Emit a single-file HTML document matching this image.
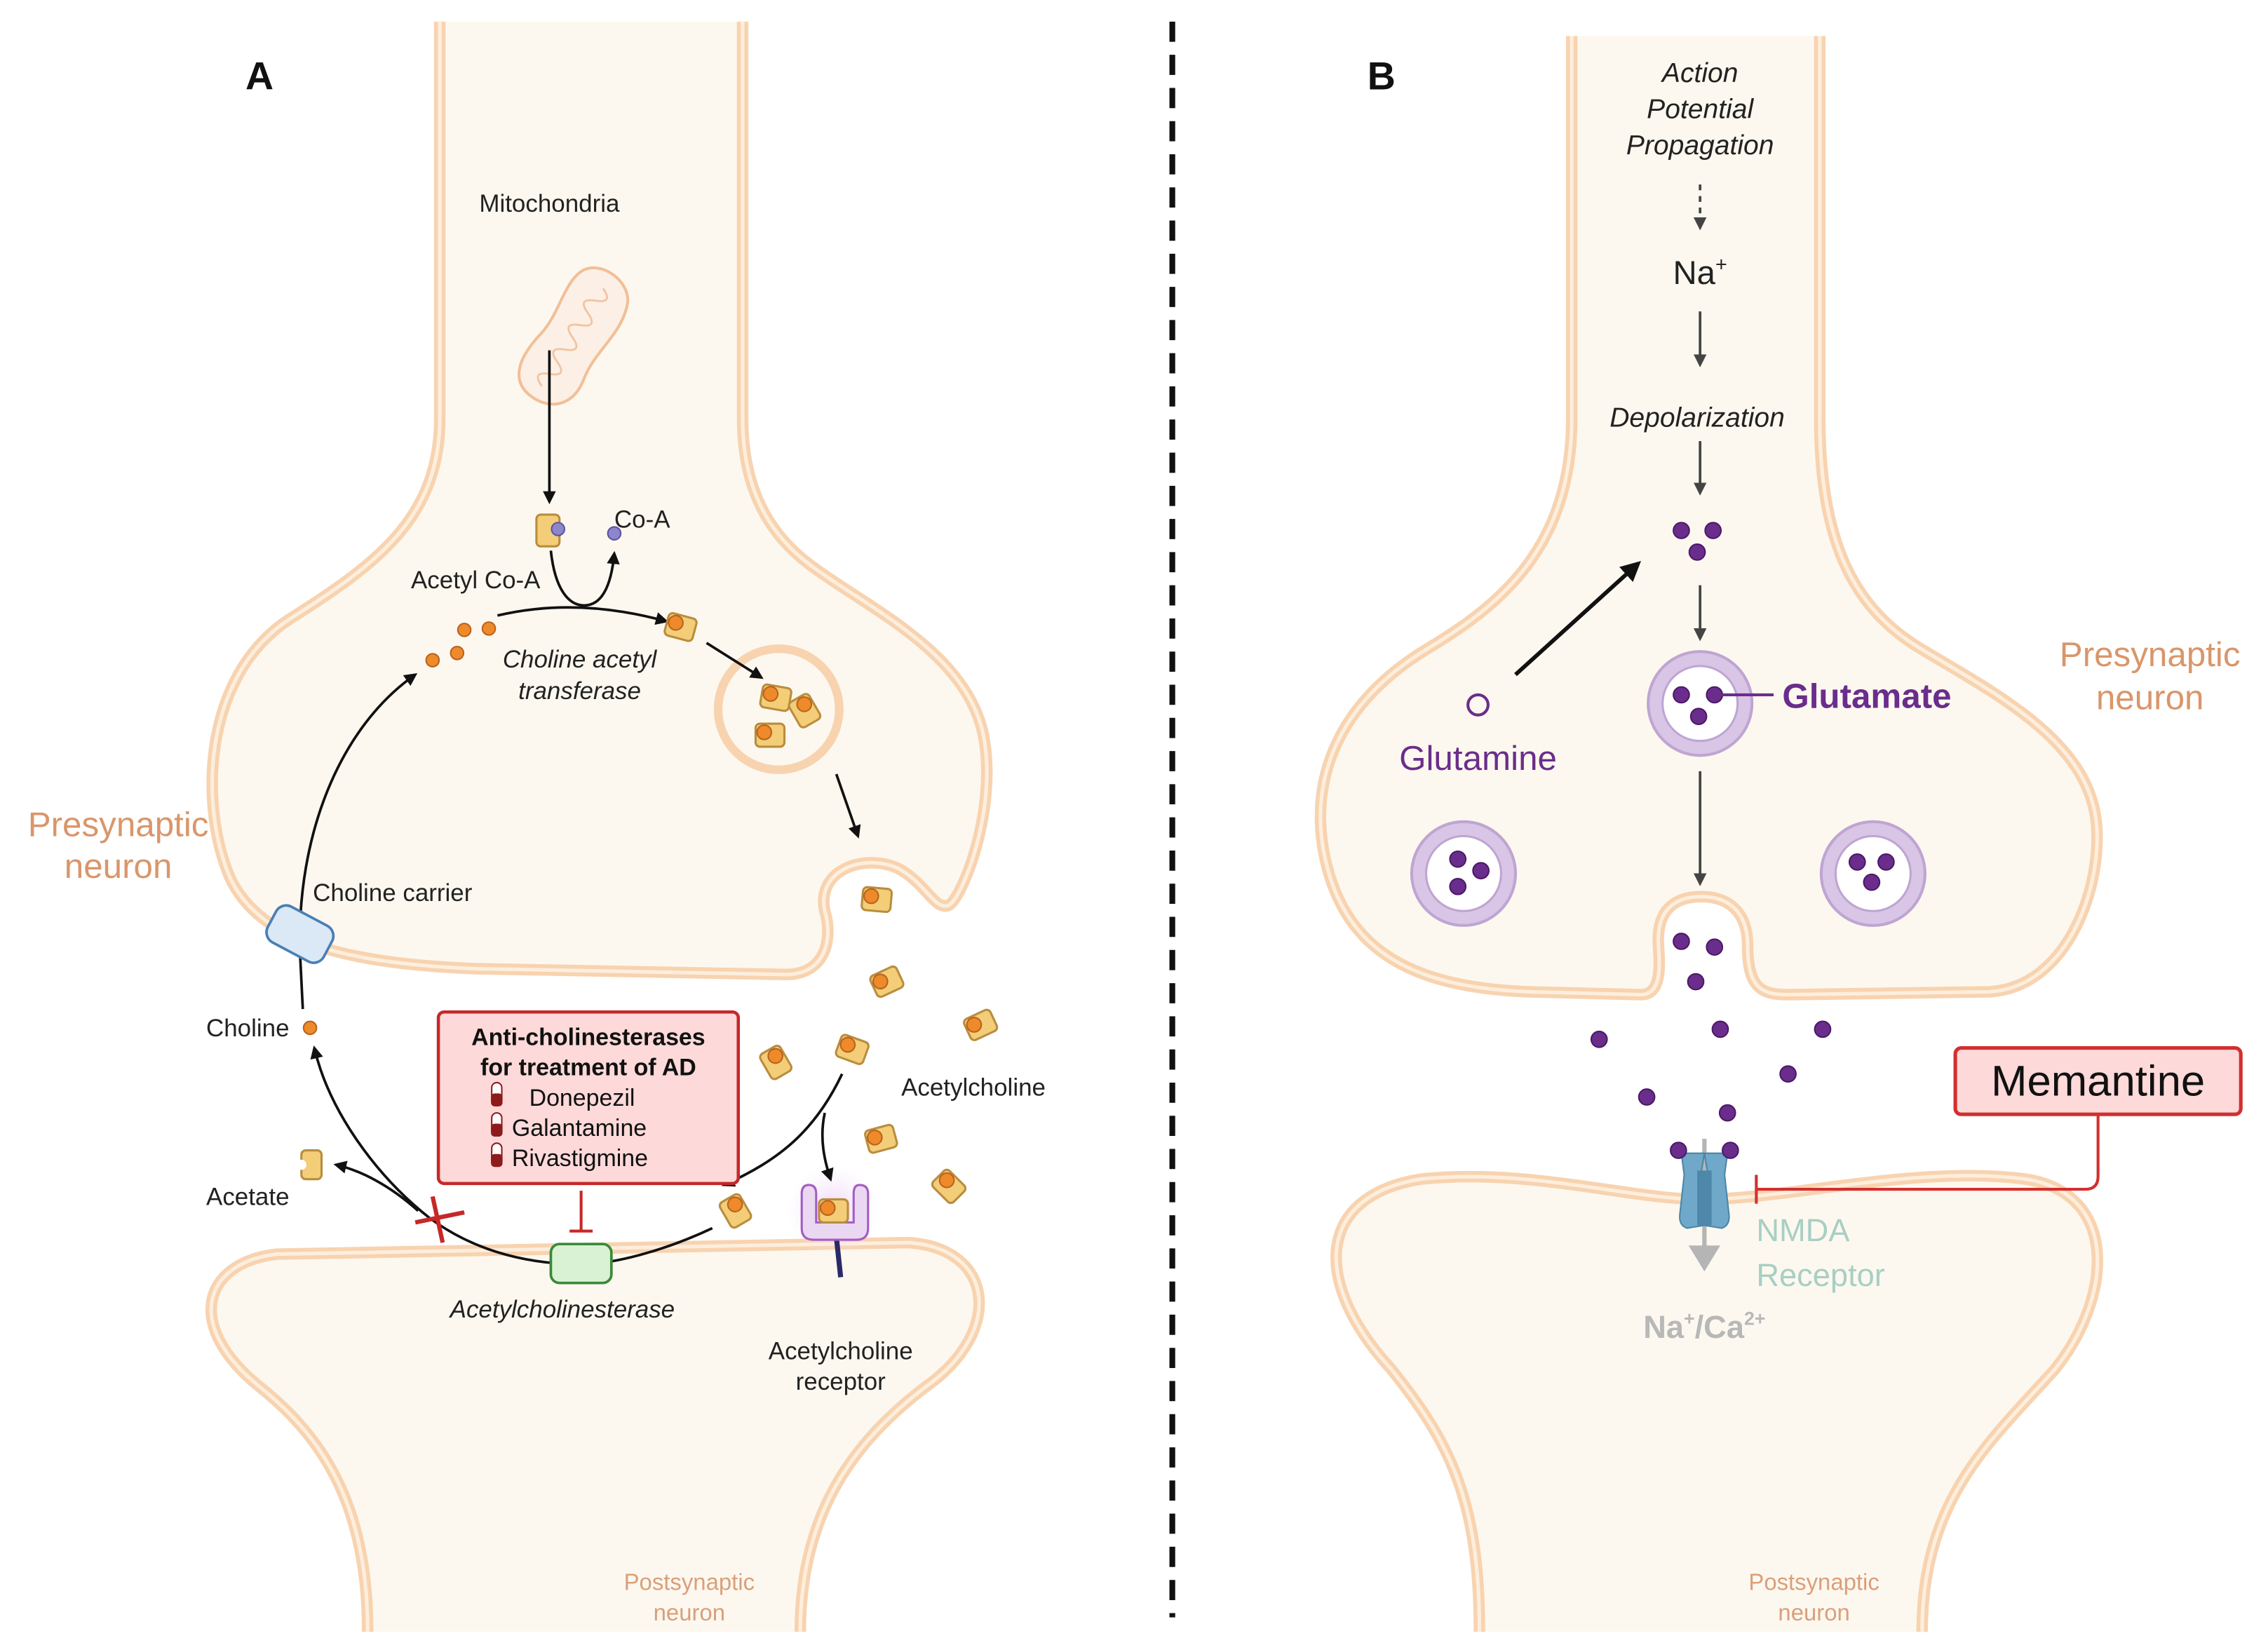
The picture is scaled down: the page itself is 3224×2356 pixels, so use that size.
<!DOCTYPE html>
<html><head><meta charset="utf-8"><style>
html,body{margin:0;padding:0;background:#fff;}
svg{display:block;}
text{font-family:"Liberation Sans",sans-serif;}
</style></head><body>
<svg width="3224" height="2356" viewBox="0 0 1568 1146" preserveAspectRatio="none" xmlns="http://www.w3.org/2000/svg">
<defs>
<marker id="ah" viewBox="0 0 10 10" refX="8" refY="5" markerWidth="5" markerHeight="5" orient="auto"><path d="M0,0 L10,5 L0,10 Z" fill="#111"/></marker>
<marker id="ahg" viewBox="0 0 10 10" refX="8" refY="5" markerWidth="5" markerHeight="5" orient="auto"><path d="M0,0 L10,5 L0,10 Z" fill="#444"/></marker>
<g id="ach"><rect x="-10" y="-8" width="20" height="16" rx="3" fill="#f3cd77" stroke="#b98d3e" stroke-width="1.5"/><circle cx="-4" cy="-2" r="5" fill="#ee8a2a" stroke="#b8621e" stroke-width="1"/></g>
<g id="glu"><circle r="5.5" fill="#6a2d8c" stroke="#4a1a66" stroke-width="1"/></g>
<g id="ves"><circle r="36" fill="#d9c6e6" stroke="#bea5d2" stroke-width="2"/><circle r="26" fill="#fff" stroke="#bea5d2" stroke-width="1.5"/></g>
<radialGradient id="glow"><stop offset="0" stop-color="#e8c8f4" stop-opacity="0.8"/><stop offset="1" stop-color="#f5e6fa" stop-opacity="0"/></radialGradient>
</defs>
<rect width="1568" height="1146" fill="#fff"/>

<line x1="813" y1="15" x2="813" y2="1122" stroke="#111" stroke-width="4" stroke-dasharray="14,9"/>

<!-- ===== Panel A neurons ===== -->
<g fill="#fdf8ef" stroke="#f8d3b0" stroke-width="8">
<path d="M305,15 L305,290 C305,360 260,392 200,430 C140,470 138,560 160,610 C180,650 230,668 330,672 L545,676 C572,676 578,652 572,632 C566,604 598,592 622,602 C642,612 648,632 658,628 C668,622 692,560 682,510 C670,452 602,422 562,392 C527,366 515,330 515,290 L515,15"/>
<path d="M255,1132 C255,1050 228,1000 180,962 C128,920 140,876 192,870 L630,862 C690,866 696,924 642,962 C592,1000 555,1050 555,1132"/>
</g>
<g fill="none" stroke="#fdeedd" stroke-width="2.5">
<path d="M305,15 L305,290 C305,360 260,392 200,430 C140,470 138,560 160,610 C180,650 230,668 330,672 L545,676 C572,676 578,652 572,632 C566,604 598,592 622,602 C642,612 648,632 658,628 C668,622 692,560 682,510 C670,452 602,422 562,392 C527,366 515,330 515,290 L515,15"/>
<path d="M255,1132 C255,1050 228,1000 180,962 C128,920 140,876 192,870 L630,862 C690,866 696,924 642,962 C592,1000 555,1050 555,1132"/>
</g>

<text x="180" y="62" font-size="27" font-weight="bold" text-anchor="middle" fill="#111">A</text>
<text x="381" y="147" font-size="17" text-anchor="middle" fill="#222">Mitochondria</text>
<g transform="translate(397,234) rotate(-58)">
<path d="M-50,0 C-50,-22 -30,-24 -10,-20 C10,-16 30,-26 44,-18 C56,-10 54,14 40,20 C20,28 0,18 -20,22 C-40,26 -50,14 -50,0 Z" fill="#fcf0e6" stroke="#f2bf98" stroke-width="2"/>
<path d="M-40,0 q5,-12 10,0 q5,12 10,0 q5,-12 10,0 q5,12 10,0 q5,-12 10,0 q5,12 10,0 q5,-12 10,0 q5,12 10,0" fill="none" stroke="#f2c4a0" stroke-width="1.4"/>
</g>
<line x1="381" y1="243" x2="381" y2="348" stroke="#111" stroke-width="1.8" marker-end="url(#ah)"/>
<g transform="translate(380,368)"><rect x="-8" y="-11" width="16" height="22" rx="3" fill="#f3cd77" stroke="#b98d3e" stroke-width="1.5"/></g>
<circle cx="387" cy="367" r="4.5" fill="#8e86cc" stroke="#5a54a0"/>
<circle cx="426" cy="370" r="4.5" fill="#8e86cc" stroke="#5a54a0"/>
<text x="426" y="366" font-size="17" fill="#222">Co-A</text>
<text x="285" y="408" font-size="17" fill="#222">Acetyl Co-A</text>
<path d="M382,382 C385,410 395,420 405,420 C418,420 424,405 426,384" fill="none" stroke="#111" stroke-width="1.8" marker-end="url(#ah)"/>
<path d="M345,427 Q400,414 462,431" fill="none" stroke="#111" stroke-width="1.8" marker-end="url(#ah)"/>
<g fill="#ee8a2a" stroke="#b8621e"><circle cx="322" cy="437" r="4.5"/><circle cx="339" cy="436" r="4.5"/><circle cx="300" cy="458" r="4.5"/><circle cx="317" cy="453" r="4.5"/></g>
<use href="#ach" transform="translate(472,435) rotate(15)"/>
<text x="402" y="463" font-size="17" font-style="italic" text-anchor="middle" fill="#222">Choline acetyl</text>
<text x="402" y="485" font-size="17" font-style="italic" text-anchor="middle" fill="#222">transferase</text>
<circle cx="540" cy="492" r="42" fill="#fdf8ef" stroke="#f8d3b0" stroke-width="6"/>
<path d="M490,446 L528,470" stroke="#111" stroke-width="1.8" marker-end="url(#ah)"/>
<use href="#ach" transform="translate(538,484) rotate(10)"/>
<use href="#ach" transform="translate(558,493) rotate(60)"/>
<use href="#ach" transform="translate(534,510)"/>
<path d="M580,537 L595,580" stroke="#111" stroke-width="1.8" marker-end="url(#ah)"/>
<use href="#ach" transform="translate(608,624) rotate(5)"/>
<use href="#ach" transform="translate(615,681) rotate(-25)"/>
<use href="#ach" transform="translate(538,737) rotate(60)"/>
<use href="#ach" transform="translate(591,728) rotate(20)"/>
<use href="#ach" transform="translate(680,711) rotate(-25)"/>
<use href="#ach" transform="translate(611,790) rotate(-15)"/>
<use href="#ach" transform="translate(658,823) rotate(45)"/>
<use href="#ach" transform="translate(510,840) rotate(60)"/>
<text x="625" y="760" font-size="17" fill="#222">Acetylcholine</text>
<circle cx="578" cy="840" r="32" fill="url(#glow)"/>
<line x1="580" y1="858" x2="583" y2="886" stroke="#2a2a6a" stroke-width="3.5"/>
<path d="M556,828 L556,852 Q556,860 564,860 L594,860 Q602,860 602,852 L602,828 Q602,822 596,822 Q592,822 592,828 L592,848 L566,848 L566,828 Q566,822 561,822 Q556,822 556,828 Z" fill="#ead8f2" stroke="#a45cc4" stroke-width="1.5"/>
<use href="#ach" transform="translate(578,840)"/>
<path d="M584,745 C565,785 540,805 502,822" fill="none" stroke="#111" stroke-width="1.8" marker-end="url(#ah)"/>
<path d="M572,772 C568,790 572,806 576,818" fill="none" stroke="#111" stroke-width="1.8" marker-end="url(#ah)"/>
<text x="583" y="943" font-size="17" text-anchor="middle" fill="#222">Acetylcholine</text>
<text x="583" y="964" font-size="17" text-anchor="middle" fill="#222">receptor</text>
<path d="M494,852 C460,868 425,877 403,877 C360,877 325,865 298,845 C260,815 228,770 218,727" fill="none" stroke="#111" stroke-width="1.8" marker-end="url(#ah)"/>
<path d="M210,700 L208,660 C206,580 235,505 288,468" fill="none" stroke="#111" stroke-width="1.8" marker-end="url(#ah)"/>
<path d="M290,840 C270,822 250,812 233,808" fill="none" stroke="#111" stroke-width="1.8" marker-end="url(#ah)"/>
<path d="M288,848 L322,841 M300,830 L307,862" stroke="#c62828" stroke-width="3"/>
<g transform="translate(208,648) rotate(28)"><rect x="-22" y="-14" width="44" height="28" rx="8" fill="#dbe9f6" stroke="#4a7fb5" stroke-width="1.8"/></g>
<text x="217" y="625" font-size="17" fill="#222">Choline carrier</text>
<text x="143" y="719" font-size="17" fill="#222">Choline</text>
<circle cx="215" cy="713" r="4.5" fill="#ee8a2a" stroke="#b8621e"/>
<g transform="translate(216,808)"><rect x="-7" y="-10" width="14" height="20" rx="3" fill="#f3cd77" stroke="#b98d3e" stroke-width="1.5"/><circle cx="-7" cy="0" r="3.5" fill="#fff"/></g>
<text x="143" y="836" font-size="17" fill="#222">Acetate</text>
<rect x="382" y="863" width="42" height="27" rx="6" fill="#d9f2d4" stroke="#3a8a3a" stroke-width="1.8"/>
<text x="390" y="914" font-size="17" font-style="italic" text-anchor="middle" fill="#222">Acetylcholinesterase</text>
<path d="M403,826 L403,854 M395,854 L411,854" stroke="#c62828" stroke-width="2"/>
<rect x="304" y="702" width="208" height="119" rx="4" fill="#fdd9d9" stroke="#c62828" stroke-width="2.2"/>
<text x="408" y="725" font-size="16.5" font-weight="bold" text-anchor="middle" fill="#111">Anti-cholinesterases</text>
<text x="408" y="746" font-size="16.5" font-weight="bold" text-anchor="middle" fill="#111">for treatment of AD</text>
<text x="367" y="767" font-size="16.5" fill="#111">Donepezil</text>
<text x="355" y="788" font-size="16.5" fill="#111">Galantamine</text>
<text x="355" y="809" font-size="16.5" fill="#111">Rivastigmine</text>
<g stroke="#8e1b1b" stroke-width="1">
<rect x="341" y="751" width="7" height="16" rx="3.5" fill="#fff"/><rect x="341" y="759" width="7" height="8" rx="2" fill="#8e1b1b"/>
<rect x="341" y="772" width="7" height="16" rx="3.5" fill="#fff"/><rect x="341" y="780" width="7" height="8" rx="2" fill="#8e1b1b"/>
<rect x="341" y="793" width="7" height="16" rx="3.5" fill="#fff"/><rect x="341" y="801" width="7" height="8" rx="2" fill="#8e1b1b"/>
</g>
<text x="82" y="580" font-size="24" text-anchor="middle" fill="#d9966a">Presynaptic</text>
<text x="82" y="609" font-size="24" text-anchor="middle" fill="#d9966a">neuron</text>
<text x="478" y="1103" font-size="16" text-anchor="middle" fill="#d9a07a">Postsynaptic</text>
<text x="478" y="1124" font-size="16" text-anchor="middle" fill="#d9a07a">neuron</text>

<!-- ===== Panel B neurons ===== -->
<g fill="#fdf8ef" stroke="#f8d3b0" stroke-width="8">
<path d="M1090,25 L1090,290 C1090,380 1040,420 990,450 C930,486 905,540 920,600 C935,660 980,685 1060,688 L1138,690 C1155,690 1150,662 1150,652 C1150,628 1165,622 1180,622 C1198,622 1212,632 1212,656 C1212,686 1222,690 1240,690 L1380,688 C1440,684 1462,600 1452,560 C1440,510 1382,480 1332,450 C1282,420 1262,370 1262,290 L1262,25"/>
<path d="M1026,1132 C1026,1040 1005,1000 965,950 C910,890 912,830 985,818 C1060,810 1130,832 1180,832 C1240,832 1330,808 1405,818 C1470,828 1465,900 1425,950 C1380,1000 1333,1040 1333,1132"/>
</g>
<g fill="none" stroke="#fdeedd" stroke-width="2.5">
<path d="M1090,25 L1090,290 C1090,380 1040,420 990,450 C930,486 905,540 920,600 C935,660 980,685 1060,688 L1138,690 C1155,690 1150,662 1150,652 C1150,628 1165,622 1180,622 C1198,622 1212,632 1212,656 C1212,686 1222,690 1240,690 L1380,688 C1440,684 1462,600 1452,560 C1440,510 1382,480 1332,450 C1282,420 1262,370 1262,290 L1262,25"/>
<path d="M1026,1132 C1026,1040 1005,1000 965,950 C910,890 912,830 985,818 C1060,810 1130,832 1180,832 C1240,832 1330,808 1405,818 C1470,828 1465,900 1425,950 C1380,1000 1333,1040 1333,1132"/>
</g>
<text x="958" y="62" font-size="27" font-weight="bold" text-anchor="middle" fill="#111">B</text>
<g font-size="19" font-style="italic" text-anchor="middle" fill="#222">
<text x="1179" y="57">Action</text><text x="1179" y="82">Potential</text><text x="1179" y="107">Propagation</text>
<text x="1177" y="296">Depolarization</text></g>
<line x1="1179" y1="128" x2="1179" y2="158" stroke="#444" stroke-width="1.8" stroke-dasharray="4,4" marker-end="url(#ahg)"/>
<text x="1179" y="197" font-size="23" text-anchor="middle" fill="#222">Na<tspan font-size="14" dy="-9">+</tspan></text>
<line x1="1179" y1="216" x2="1179" y2="253" stroke="#444" stroke-width="1.8" marker-end="url(#ahg)"/>
<line x1="1179" y1="306" x2="1179" y2="342" stroke="#444" stroke-width="1.8" marker-end="url(#ahg)"/>
<use href="#glu" x="1166" y="368"/><use href="#glu" x="1188" y="368"/><use href="#glu" x="1177" y="383"/>
<line x1="1051" y1="468" x2="1136" y2="391" stroke="#111" stroke-width="2.8" marker-end="url(#ah)"/>
<line x1="1179" y1="406" x2="1179" y2="443" stroke="#444" stroke-width="1.8" marker-end="url(#ahg)"/>
<use href="#ves" x="1179" y="488"/>
<use href="#glu" x="1166" y="482"/><use href="#glu" x="1189" y="482"/><use href="#glu" x="1178" y="497"/>
<line x1="1189" y1="482" x2="1230" y2="482" stroke="#6a2d8c" stroke-width="2"/>
<text x="1236" y="491" font-size="24" font-weight="bold" fill="#6a2d8c">Glutamate</text>
<circle cx="1025" cy="489" r="7" fill="none" stroke="#6a2d8c" stroke-width="2"/>
<text x="1025" y="534" font-size="24" text-anchor="middle" fill="#6a2d8c">Glutamine</text>
<line x1="1179" y1="535" x2="1179" y2="613" stroke="#444" stroke-width="1.8" marker-end="url(#ahg)"/>
<use href="#ves" x="1015" y="606"/>
<use href="#glu" x="1011" y="596"/><use href="#glu" x="1027" y="604"/><use href="#glu" x="1011" y="615"/>
<use href="#ves" x="1299" y="606"/>
<use href="#glu" x="1288" y="598"/><use href="#glu" x="1308" y="598"/><use href="#glu" x="1298" y="612"/>
<use href="#glu" x="1166" y="653"/><use href="#glu" x="1189" y="657"/><use href="#glu" x="1176" y="681"/>
<use href="#glu" x="1109" y="721"/><use href="#glu" x="1193" y="714"/><use href="#glu" x="1264" y="714"/>
<use href="#glu" x="1142" y="761"/><use href="#glu" x="1240" y="745"/><use href="#glu" x="1198" y="772"/>
<line x1="1182" y1="790" x2="1182" y2="866" stroke="#b5b5b5" stroke-width="3"/>
<path d="M1166,800 L1182,800 L1180,812 L1182,850 L1170,852 Q1164,850 1165,842 L1168,815 Z" fill="#6fa8c9" stroke="#4a86a8" stroke-width="1"/>
<path d="M1198,800 L1182,800 L1184,812 L1182,850 L1194,852 Q1200,850 1199,842 L1196,815 Z" fill="#6fa8c9" stroke="#4a86a8" stroke-width="1"/>
<rect x="1177" y="812" width="10" height="38" fill="#4d88aa"/>
<use href="#glu" x="1164" y="798"/><use href="#glu" x="1200" y="798"/>
<path d="M1171,864 L1193,864 L1182,882 Z" fill="#b5b5b5"/>
<text x="1182" y="928" font-size="22" font-weight="bold" text-anchor="middle" fill="#b8b8b8">Na<tspan font-size="13" dy="-9">+</tspan><tspan dy="9">/Ca</tspan><tspan font-size="13" dy="-9">2+</tspan></text>
<text x="1218" y="861" font-size="22" fill="#a8cfc4">NMDA</text>
<text x="1218" y="892" font-size="22" fill="#a8cfc4">Receptor</text>
<rect x="1356" y="727" width="198" height="46" rx="4" fill="#fdd9d9" stroke="#d32f2f" stroke-width="2.5"/>
<text x="1455" y="760" font-size="30" text-anchor="middle" fill="#111">Memantine</text>
<path d="M1455,773 L1455,816 Q1455,825 1446,825 L1218,825 M1218,815 L1218,835" fill="none" stroke="#d32f2f" stroke-width="2"/>
<text x="1491" y="462" font-size="24" text-anchor="middle" fill="#d9966a">Presynaptic</text>
<text x="1491" y="492" font-size="24" text-anchor="middle" fill="#d9966a">neuron</text>
<text x="1258" y="1103" font-size="16" text-anchor="middle" fill="#d9a07a">Postsynaptic</text>
<text x="1258" y="1124" font-size="16" text-anchor="middle" fill="#d9a07a">neuron</text>
</svg>
</body></html>
